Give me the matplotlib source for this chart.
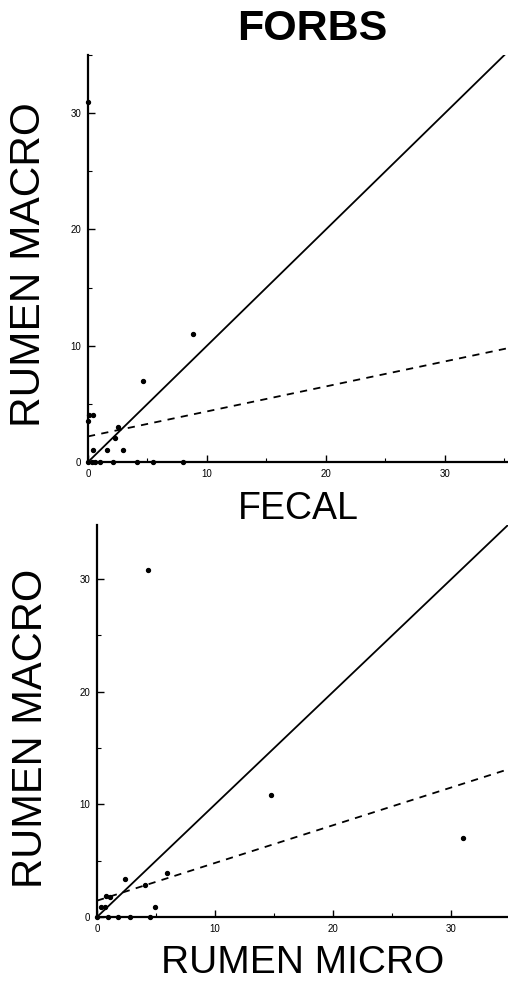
import matplotlib
matplotlib.use("Agg")
import matplotlib.pyplot as plt
from matplotlib.ticker import MultipleLocator

plt.rcParams['font.family'] = ['Liberation Sans', 'DejaVu Sans']

# panel 1: fecal vs rumen macro
fecal_x = [0.0, 0.1, 0.4, 0.0, 2.5, 2.3, 1.6, 2.9, 0.4, 4.6, 8.8,
           0.0, 0.3, 0.6, 1.0, 2.1, 4.1, 5.5, 8.0]
fecal_y = [31.0, 4.0, 4.0, 3.5, 3.0, 2.1, 1.0, 1.0, 1.0, 7.0, 11.0,
           0.0, 0.0, 0.0, 0.0, 0.0, 0.0, 0.0, 0.0]
fecal_fit = (2.2, 0.215)   # intercept, slope

# panel 2: rumen micro vs rumen macro
micro_x = [4.3, 14.7, 31.0, 2.4, 4.1, 5.9, 4.9, 0.8, 1.1, 0.3, 0.7,
           0.0, 0.9, 1.8, 2.8, 4.5]
micro_y = [30.8, 10.8, 7.0, 3.4, 2.8, 3.9, 0.9, 1.9, 1.8, 0.9, 0.9,
           0.0, 0.0, 0.0, 0.0, 0.0]
micro_fit = (1.45, 0.335)

ticks = [0, 10, 20, 30]

fig = plt.figure(figsize=(5.08, 9.82), dpi=100)


def panel(rect, x, y, fit, xmax, ymax, xlabel, size, pad):
    ax = fig.add_axes(rect)
    ax.scatter(x, y, s=8, color='black', zorder=3, clip_on=False)
    ax.axline((0, 0), slope=1, color='black', lw=1.3)
    ax.axline((0, fit[0]), slope=fit[1], color='black', lw=1.3,
              linestyle=(0, (4, 3.5)))
    ax.set_xlim(0, xmax)
    ax.set_ylim(0, ymax)
    for s in ['top', 'right']:
        ax.spines[s].set_visible(False)
    for s in ['left', 'bottom']:
        ax.spines[s].set_linewidth(1.6)
    ax.set_xticks(ticks)
    ax.set_yticks(ticks)
    ax.xaxis.set_minor_locator(MultipleLocator(5))
    ax.yaxis.set_minor_locator(MultipleLocator(5))
    ax.tick_params(which='major', direction='in', length=5, width=1,
                   labelsize=7, pad=5)
    ax.tick_params(which='minor', direction='in', length=3, width=0.8)
    ax.set_xlabel(xlabel, fontsize=size, labelpad=pad)
    return ax


ax1 = panel([88/508, 1-462/982, 420/508, 407/982],
            fecal_x, fecal_y, fecal_fit, 35.3, 35.0, 'FECAL', 27, 9)
ax2 = panel([97/508, 1-917/982, 411/508, 392/982],
            micro_x, micro_y, micro_fit, 34.8, 34.8, 'RUMEN MICRO', 28, 8)

fig.text(29/508, 1-265/982, 'RUMEN MACRO', rotation=90, fontsize=30.5,
         ha='center', va='center')
fig.text(31/508, 1-728/982, 'RUMEN MACRO', rotation=90, fontsize=30,
         ha='center', va='center')
fig.text(312/508, 1-29/982, 'FORBS', fontsize=31, fontweight='bold',
         ha='center', va='center')

fig.savefig('out.png', dpi=100)
